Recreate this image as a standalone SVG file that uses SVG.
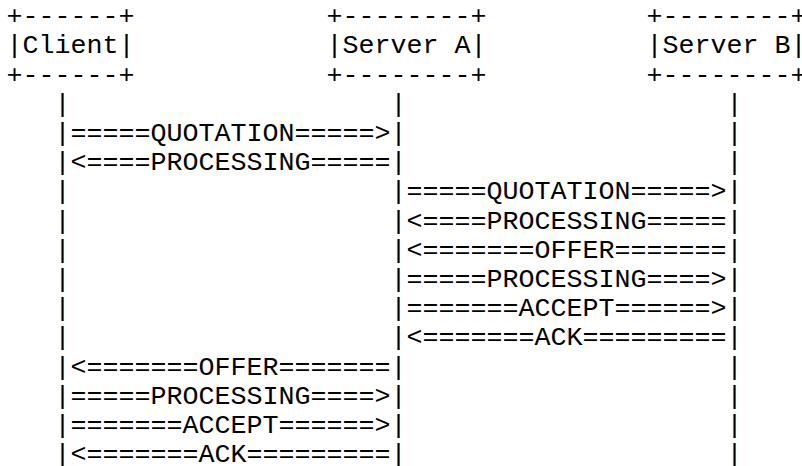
<svg xmlns="http://www.w3.org/2000/svg" width="802" height="466" viewBox="0 0 802 466">
<style>
text{font-family:"Liberation Mono","Courier New",monospace;font-size:26.667px;fill:#000;white-space:pre}
</style>
<rect width="802" height="466" fill="#fff"/>
<g id="client">
<text x="6.5" y="24.2">+------+</text>
<text x="6.5" y="53.4">|Client|</text>
<text x="6.5" y="82.6">+------+</text>
</g>
<g id="server-a">
<text x="326.5" y="24.2">+--------+</text>
<text x="326.5" y="53.4">|Server A|</text>
<text x="326.5" y="82.6">+--------+</text>
</g>
<g id="server-b">
<text x="646.5" y="24.2">+--------+</text>
<text x="646.5" y="53.4">|Server B|</text>
<text x="646.5" y="82.6">+--------+</text>
</g>
<g id="lifelines">
<text x="54.5" y="111.8">|</text><text x="390.5" y="111.8">|</text><text x="726.5" y="111.8">|</text>
<text x="54.5" y="141">|</text><text x="390.5" y="141">|</text><text x="726.5" y="141">|</text>
<text x="54.5" y="170.2">|</text><text x="390.5" y="170.2">|</text><text x="726.5" y="170.2">|</text>
<text x="54.5" y="199.4">|</text><text x="390.5" y="199.4">|</text><text x="726.5" y="199.4">|</text>
<text x="54.5" y="228.6">|</text><text x="390.5" y="228.6">|</text><text x="726.5" y="228.6">|</text>
<text x="54.5" y="257.8">|</text><text x="390.5" y="257.8">|</text><text x="726.5" y="257.8">|</text>
<text x="54.5" y="287">|</text><text x="390.5" y="287">|</text><text x="726.5" y="287">|</text>
<text x="54.5" y="316.2">|</text><text x="390.5" y="316.2">|</text><text x="726.5" y="316.2">|</text>
<text x="54.5" y="345.4">|</text><text x="390.5" y="345.4">|</text><text x="726.5" y="345.4">|</text>
<text x="54.5" y="374.6">|</text><text x="390.5" y="374.6">|</text><text x="726.5" y="374.6">|</text>
<text x="54.5" y="403.8">|</text><text x="390.5" y="403.8">|</text><text x="726.5" y="403.8">|</text>
<text x="54.5" y="433">|</text><text x="390.5" y="433">|</text><text x="726.5" y="433">|</text>
<text x="54.5" y="462.2">|</text><text x="390.5" y="462.2">|</text><text x="726.5" y="462.2">|</text>
</g>
<g id="connectors">
<text x="70.5" y="141">=====QUOTATION=====&gt;</text>
<text x="70.5" y="170.2">&lt;====PROCESSING=====</text>
<text x="406.5" y="199.4">=====QUOTATION=====&gt;</text>
<text x="406.5" y="228.6">&lt;====PROCESSING=====</text>
<text x="406.5" y="257.8">&lt;=======OFFER=======</text>
<text x="406.5" y="287">=====PROCESSING====&gt;</text>
<text x="406.5" y="316.2">=======ACCEPT======&gt;</text>
<text x="406.5" y="345.4">&lt;=======ACK=========</text>
<text x="70.5" y="374.6">&lt;=======OFFER=======</text>
<text x="70.5" y="403.8">=====PROCESSING====&gt;</text>
<text x="70.5" y="433">=======ACCEPT======&gt;</text>
<text x="70.5" y="462.2">&lt;=======ACK=========</text>
</g>
</svg>
